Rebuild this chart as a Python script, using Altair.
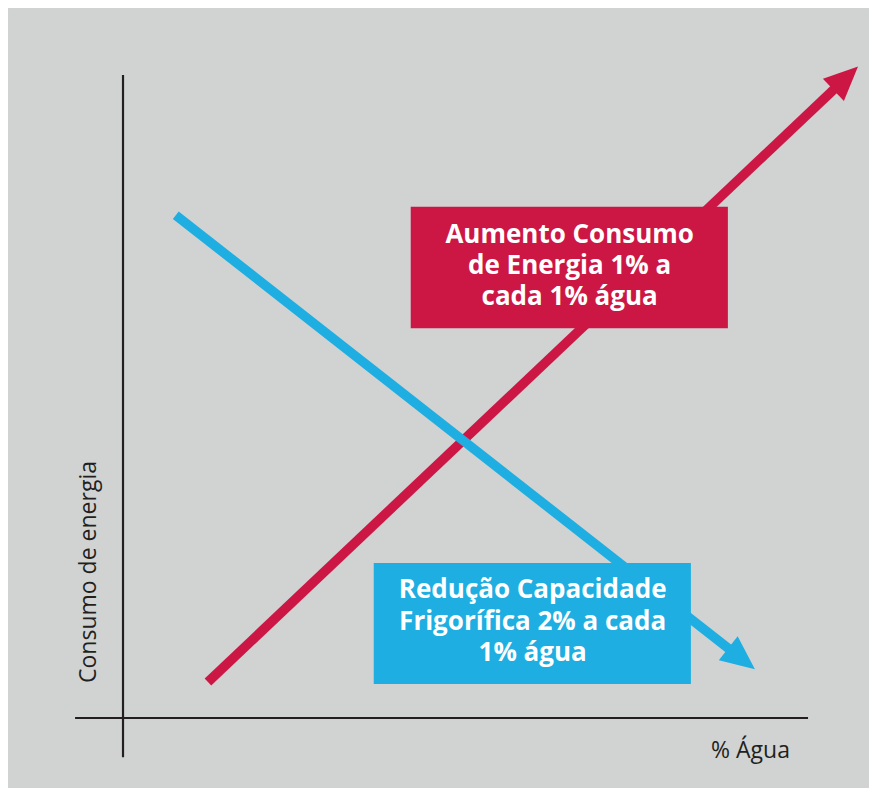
import altair as alt
import pandas as pd

# Schematic chart units: the drawn axes run from 0 to 100 on both directions
series = ["Consumo de energia", "Capacidade frigorífica"]
x_start = [12.4, 7.7]
y_start = [5.6, 78.2]
x_end = [105.5, 90.3]
y_end = [99.5, 9.2]
arrow_angle = [46.6, 128.1]
series_color = ["#cc1745", "#1eaee2"]

box_x = [42.0, 36.6]
box_x2 = [88.3, 82.9]
box_y = [79.5, 24.1]
box_y2 = [60.6, 5.3]
box_text = ["Aumento Consumo\nde Energia 1% a\ncada 1% água",
            "Redução Capacidade\nFrigorífica 2% a cada\n1% água"]
text_x = [65.2, 59.8]
text_y = [73.9, 18.6]

axis_x_range = [-7.0, 100.0]
axis_y_range = [-6.1, 100.0]

y_title = "Consumo de energia"
y_title_pos = [-4.9, 22.7]
x_title = "% Água"
x_title_pos = [91.6, -6.2]

X_DOMAIN = [-16.79, 108.9]
Y_DOMAIN = [-10.89, 110.42]
BG = "#d1d3d3"
INK = "#231f20"

xs = alt.Scale(domain=X_DOMAIN, nice=False, zero=False)
ys = alt.Scale(domain=Y_DOMAIN, nice=False, zero=False)

lines = pd.DataFrame({"serie": series, "x": x_start, "y": y_start,
                      "x2": x_end, "y2": y_end, "angle": arrow_angle,
                      "color": series_color})
boxes = pd.DataFrame({"x": box_x, "x2": box_x2, "y": box_y, "y2": box_y2,
                      "tx": text_x, "ty": text_y, "text": box_text,
                      "color": series_color})
axes = pd.DataFrame({"x": [axis_x_range[0], 0.0], "x2": [axis_x_range[1], 0.0],
                     "y": [0.0, axis_y_range[0]], "y2": [0.0, axis_y_range[1]]})

axis_layer = alt.Chart(axes).mark_rule(color=INK, strokeWidth=2.2).encode(
    x=alt.X("x:Q", scale=xs, axis=None), x2="x2:Q",
    y=alt.Y("y:Q", scale=ys, axis=None), y2="y2:Q")

line_layer = alt.Chart(lines).mark_rule(strokeWidth=9.5, strokeCap="butt").encode(
    x=alt.X("x:Q", scale=xs, axis=None), x2="x2:Q",
    y=alt.Y("y:Q", scale=ys, axis=None), y2="y2:Q",
    color=alt.Color("color:N", scale=None))

arrow_layer = alt.Chart(lines).mark_point(
    shape="M0,-1L0.9,1L-0.9,1Z", size=1150, filled=True, opacity=1, strokeWidth=0
).encode(
    x=alt.X("x2:Q", scale=xs, axis=None),
    y=alt.Y("y2:Q", scale=ys, axis=None),
    angle=alt.Angle("angle:Q", scale=None),
    color=alt.Color("color:N", scale=None))

box_layer = alt.Chart(boxes).mark_rect().encode(
    x=alt.X("x:Q", scale=xs, axis=None), x2="x2:Q",
    y=alt.Y("y:Q", scale=ys, axis=None), y2="y2:Q",
    color=alt.Color("color:N", scale=None))

box_text_layer = alt.Chart(boxes).mark_text(
    font="Open Sans", fontWeight="bold", fontSize=26, color="white",
    align="center", baseline="alphabetic", lineBreak="\n", lineHeight=31.2
).encode(
    x=alt.X("tx:Q", scale=xs, axis=None),
    y=alt.Y("ty:Q", scale=ys, axis=None),
    text="text:N")

titles = pd.DataFrame({"text": [y_title, x_title],
                       "x": [y_title_pos[0], x_title_pos[0]],
                       "y": [y_title_pos[1], x_title_pos[1]]})

ytitle_layer = alt.Chart(titles.iloc[[0]]).mark_text(
    font="Open Sans", fontSize=23, color=INK, align="center", baseline="middle",
    angle=270
).encode(x=alt.X("x:Q", scale=xs, axis=None), y=alt.Y("y:Q", scale=ys, axis=None),
         text="text:N")

xtitle_layer = alt.Chart(titles.iloc[[1]]).mark_text(
    font="Open Sans", fontSize=23, color=INK, align="center", baseline="alphabetic"
).encode(x=alt.X("x:Q", scale=xs, axis=None), y=alt.Y("y:Q", scale=ys, axis=None),
         text="text:N")

chart = alt.layer(axis_layer, line_layer, arrow_layer, box_layer, box_text_layer,
                  ytitle_layer, xtitle_layer).properties(
    width=861, height=780, padding=0, autosize=alt.AutoSizeParams(type="none"),
    background=BG
).configure_view(stroke=None)

chart.save("out.html", embed_options={"renderer": "svg", "actions": False})
